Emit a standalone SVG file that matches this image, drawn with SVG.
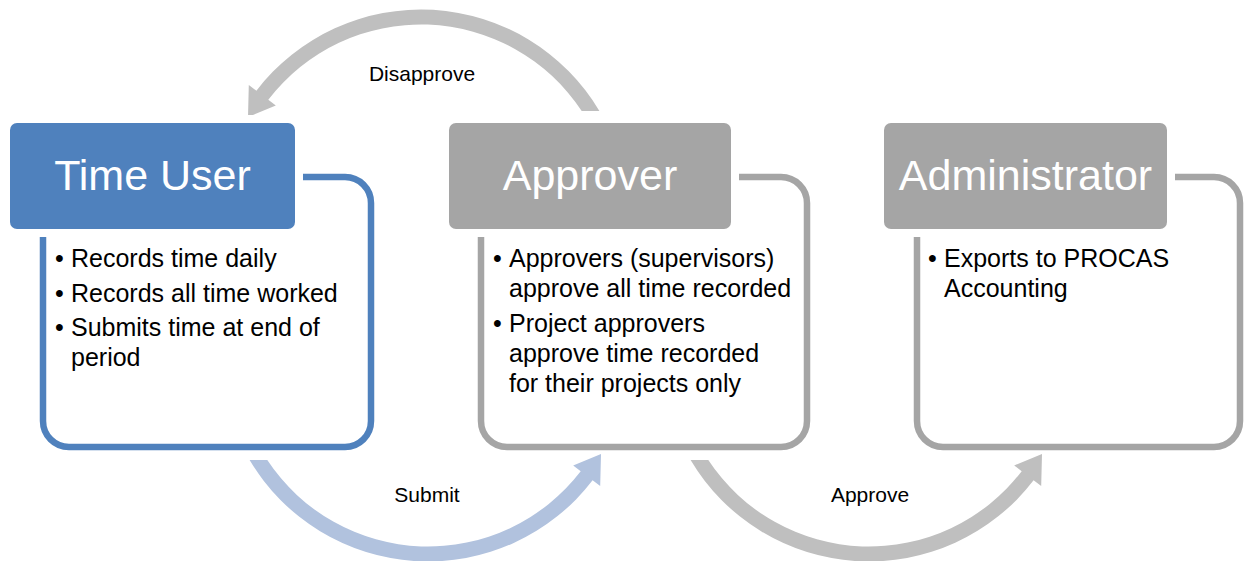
<svg xmlns="http://www.w3.org/2000/svg" width="1244" height="561" viewBox="0 0 1244 561">
<style>
.hdr{font-family:"Liberation Sans",Arial,sans-serif;font-size:43px;fill:#fff;text-anchor:middle}
.txt{font-family:"Liberation Sans",Arial,sans-serif;font-size:25px;fill:#000}
.lbl{font-family:"Liberation Sans",Arial,sans-serif;font-size:21px;fill:#000;text-anchor:middle}
.bodyB{fill:#fff;stroke:#4F81BD;stroke-width:6.5}
.bodyG{fill:#fff;stroke:#A5A5A5;stroke-width:6.5}
.halo{fill:#fff}
</style>
<defs>
<path id="arc" d="M 249.6 460 A 207.5 207.5 0 0 0 592.6 480.3 L 600.2 486.1 L 601 454 L 573.2 465.4 L 580.7 471.2 A 192.5 192.5 0 0 1 267.3 460 Z"/>
</defs>
<rect width="1244" height="561" fill="#fff"/>
<g id="connectors">
<use href="#arc" fill="#B1C2DE"/>
<use href="#arc" fill="#BFBFBF" transform="translate(441 0)"/>
<use href="#arc" fill="#BFBFBF" transform="rotate(180 424.5 285.5)"/>
<text class="lbl" x="422" y="81">Disapprove</text>
<text class="lbl" x="427" y="502">Submit</text>
<text class="lbl" x="870" y="502">Approve</text>
</g>
<g id="timeuser">
<rect class="bodyB" x="43" y="177" width="328" height="270" rx="26"/>
<rect class="halo" x="2" y="115" width="301" height="122" rx="13"/>
<rect x="10" y="123" width="285" height="106" rx="7" fill="#4F81BD"/>
<text class="hdr" x="152.5" y="190">Time User</text>
<text class="txt"><tspan x="55" y="267">•</tspan><tspan x="71" y="267">Records time daily</tspan><tspan x="55" y="302">•</tspan><tspan x="71" y="302">Records all time worked</tspan><tspan x="55" y="336">•</tspan><tspan x="71" y="336">Submits time at end of</tspan><tspan x="71" y="366">period</tspan></text>
</g>
<g id="approver">
<rect class="bodyG" x="481" y="177" width="326" height="270" rx="26"/>
<rect class="halo" x="441" y="115" width="298" height="122" rx="13"/>
<rect x="449" y="123" width="282" height="106" rx="7" fill="#A5A5A5"/>
<text class="hdr" x="590" y="190">Approver</text>
<text class="txt"><tspan x="493" y="267">•</tspan><tspan x="509" y="267">Approvers (supervisors)</tspan><tspan x="509" y="297">approve all time recorded</tspan><tspan x="493" y="332">•</tspan><tspan x="509" y="332">Project approvers</tspan><tspan x="509" y="362">approve time recorded</tspan><tspan x="509" y="392">for their projects only</tspan></text>
</g>
<g id="administrator">
<rect class="bodyG" x="917" y="177" width="323" height="270" rx="26"/>
<rect class="halo" x="876" y="115" width="299" height="122" rx="13"/>
<rect x="884" y="123" width="283" height="106" rx="7" fill="#A5A5A5"/>
<text class="hdr" x="1025.5" y="190">Administrator</text>
<text class="txt"><tspan x="928" y="267">•</tspan><tspan x="944" y="267">Exports to PROCAS</tspan><tspan x="944" y="297">Accounting</tspan></text>
</g>
</svg>
